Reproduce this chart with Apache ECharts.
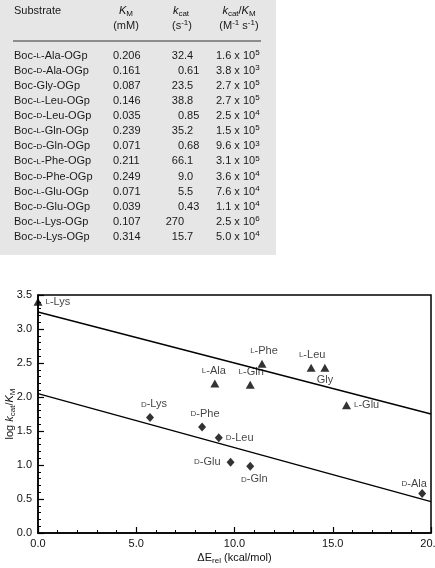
<!DOCTYPE html>
<html><head><meta charset="utf-8">
<script src="https://cdn.jsdelivr.net/npm/echarts@6/dist/echarts.min.js"></script>
<style>html,body{margin:0;padding:0;background:#fff}#c{width:435px;height:568px}</style>
</head><body><div id="c"></div>
<script>
// ---- table data ----
const substrates = ['Boc-L-Ala-OGp','Boc-D-Ala-OGp','Boc-Gly-OGp','Boc-L-Leu-OGp','Boc-D-Leu-OGp','Boc-L-Gln-OGp','Boc-D-Gln-OGp','Boc-L-Phe-OGp','Boc-D-Phe-OGp','Boc-L-Glu-OGp','Boc-D-Glu-OGp','Boc-L-Lys-OGp','Boc-D-Lys-OGp'];
const kmValues = ['0.206','0.161','0.087','0.146','0.035','0.239','0.071','0.211','0.249','0.071','0.039','0.107','0.314'];
const kcatValues = ['32.4','0.61','23.5','38.8','0.85','35.2','0.68','66.1','9.0','5.5','0.43','270','15.7'];
const kcatKmMantissa = ['1.6','3.8','2.7','2.7','2.5','1.5','9.6','3.1','3.6','7.6','1.1','2.5','5.0'];
const kcatKmExponent = ['5','3','5','5','4','5','3','5','4','4','4','6','4'];

// ---- chart data ----
const lNames = ['L-Lys','L-Ala','L-Gln','L-Phe','L-Leu','Gly','L-Glu'];
const lX = [0.0, 9.0, 10.8, 11.4, 13.9, 14.6, 15.7];
const lY = [3.40, 2.20, 2.18, 2.49, 2.43, 2.43, 1.88];
const dNames = ['D-Lys','D-Phe','D-Leu','D-Glu','D-Gln','D-Ala'];
const dX = [5.7, 8.35, 9.2, 9.8, 10.8, 19.55];
const dY = [1.70, 1.56, 1.40, 1.04, 0.98, 0.58];
const fitLX = [0, 20];
const fitLY = [3.25, 1.75];
const fitDX = [0, 20];
const fitDY = [2.05, 0.46];

// ---- label placement (style) ----
const lLabelPos = ['right','top','top','top','top','bottom','right'];
const lLabelOff = [[0,0],[-1,0],[1,0],[2,0],[1,0],[0,0],[0,0]];
const dLabelPos = ['top','top','right','left','bottom','top'];
const dLabelOff = [[4,0],[3,0],[0,0],[-3,0],[4,0],[-8,3]];

const FF = "'Liberation Sans', Arial, Helvetica, sans-serif";
const scFmt = s => s.replace(/(^|-)([LD])-/, '$1{sc|$2}-');
const richBase = {
  sc: {fontSize: 8, fontFamily: FF, color: '#111', fill: '#111'},
  i: {fontSize: 11, fontStyle: 'italic', fontFamily: FF, lineHeight: 14, color: '#111', fill: '#111'},
  n: {fontSize: 11, fontFamily: FF, lineHeight: 14, color: '#111', fill: '#111'},
  s: {fontSize: 8, fontFamily: FF, verticalAlign: 'bottom', lineHeight: 9, color: '#111', fill: '#111'},
  sup: {fontSize: 8, fontFamily: FF, verticalAlign: 'top', lineHeight: 9, color: '#111', fill: '#111'}
};

function txt(x, y, text, align, rot) {
  return {
    type: 'text', x: x, y: y, z: 10, rotation: rot || 0,
    style: {
      text: text, fontSize: 11, fontFamily: FF, fill: '#1a1a1a',
      align: align || 'left', textAlign: align || 'left',
      verticalAlign: 'middle', textVerticalAlign: 'middle',
      lineHeight: 14, rich: richBase
    }
  };
}

const graphics = [
  {type: 'rect', shape: {x: 0, y: 0, width: 276, height: 255}, style: {fill: '#e6e6e6'}, z: 1},
  {type: 'line', shape: {x1: 13, y1: 41, x2: 261, y2: 41}, style: {stroke: '#8c8c8c', lineWidth: 2}, z: 5},
  txt(14, 10.5, 'Substrate'),
  txt(126, 10.5, '{i|K}{s|M}', 'center'),
  txt(126, 25.5, '(mM)', 'center'),
  txt(181, 10.5, '{i|k}{s|cat}', 'center'),
  txt(182, 25.5, '(s{sup|-1})', 'center'),
  txt(239, 10.5, '{i|k}{s|cat}{n|/}{i|K}{s|M}', 'center'),
  txt(239, 25.5, '(M{sup|-1} s{sup|-1})', 'center'),
  // y-axis title
  txt(10, 414, '{n|log }{i|k}{s|cat}{n|/}{i|K}{s|M}', 'center', Math.PI / 2)
];
for (let i = 0; i < substrates.length; i++) {
  const y = 55.7 + 15.1 * i;
  graphics.push(txt(14, y, scFmt(substrates[i])));
  graphics.push(txt(113, y, kmValues[i]));
  const k = kcatValues[i];
  const dot = k.indexOf('.');
  const intPart = dot >= 0 ? k.slice(0, dot) : k;
  const rest = dot >= 0 ? k.slice(dot) : '';
  graphics.push(txt(184, y, intPart, 'right'));
  if (rest) graphics.push(txt(184, y, rest, 'left'));
  graphics.push(txt(216, y, kcatKmMantissa[i] + ' x 10{sup|' + kcatKmExponent[i] + '}'));
}

function pts(xs, ys, names, pos, off) {
  return xs.map((x, i) => ({
    value: [x, ys[i]], name: names[i],
    label: {position: pos[i], offset: off[i]}
  }));
}
const labelCommon = {
  show: true, fontSize: 11, fontFamily: FF, color: '#111', distance: 3,
  formatter: p => scFmt(p.name),
  rich: {sc: {fontSize: 8, fontFamily: FF, color: '#111'}}
};

const chart = echarts.init(document.getElementById('c'), null, {renderer: 'canvas'});
chart.setOption({
  animation: false,
  backgroundColor: '#fff',
  graphic: graphics,
  grid: {left: 38, right: 4, top: 295, bottom: 35, containLabel: false, outerBoundsMode: 'none',
         show: true, borderColor: '#000', borderWidth: 1.5, backgroundColor: 'transparent'},
  xAxis: {
    type: 'value', min: 0, max: 20, interval: 5,
    axisLine: {show: true, onZero: false, lineStyle: {color: '#000', width: 1.5}},
    axisTick: {show: true, inside: true, length: 6, lineStyle: {color: '#000', width: 1.2}},
    minorTick: {show: true, splitNumber: 5, length: 3, lineStyle: {color: '#000', width: 1}},
    splitLine: {show: false},
    axisLabel: {margin: 5, fontSize: 11, fontFamily: FF, color: '#111', formatter: v => v.toFixed(1)},
    name: '{n|ΔE}{s|rel}{n| (kcal/mol)}', nameLocation: 'middle', nameGap: 18,
    nameTextStyle: {fontSize: 11, fontFamily: FF, color: '#111', rich: richBase}
  },
  yAxis: {
    type: 'value', min: 0, max: 3.5, interval: 0.5,
    axisLine: {show: true, onZero: false, lineStyle: {color: '#000', width: 1.5}},
    axisTick: {show: true, inside: true, length: 6, lineStyle: {color: '#000', width: 1.2}},
    minorTick: {show: true, splitNumber: 5, length: 3, lineStyle: {color: '#000', width: 1}},
    splitLine: {show: false},
    axisLabel: {margin: 6, fontSize: 11, fontFamily: FF, color: '#111', formatter: v => v.toFixed(1)}
  },
  series: [
    {type: 'line', data: fitLX.map((x, i) => [x, fitLY[i]]), symbol: 'none',
     lineStyle: {color: '#000', width: 1.3}, silent: true},
    {type: 'line', data: fitDX.map((x, i) => [x, fitDY[i]]), symbol: 'none',
     lineStyle: {color: '#000', width: 1.3}, silent: true},
    {type: 'scatter', symbol: 'triangle', symbolSize: [9, 8], itemStyle: {color: '#000'},
     data: pts(lX, lY, lNames, lLabelPos, lLabelOff), label: labelCommon, clip: false},
    {type: 'scatter', symbol: 'diamond', symbolSize: [8, 9], itemStyle: {color: '#000'},
     data: pts(dX, dY, dNames, dLabelPos, dLabelOff), label: labelCommon, clip: false}
  ]
});
</script>
</body></html>
